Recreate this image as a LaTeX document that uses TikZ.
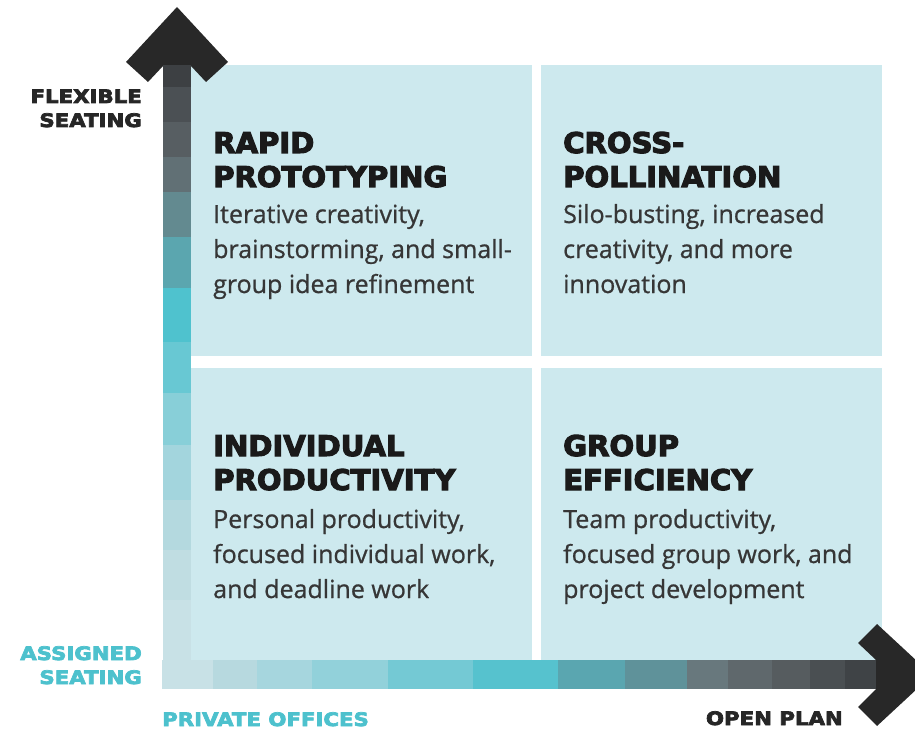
\documentclass[tikz,border=0pt]{standalone}
\usepackage{fontspec}
\setmainfont{Open Sans}[FakeBold=0.8]
\newfontfamily\headfont{DejaVu Sans}[BoldFeatures={FakeStretch=1.02,FakeBold=4}]
\newfontfamily\axisfont{DejaVu Sans}[BoldFeatures={FakeStretch=1.15,FakeBold=4}]

\definecolor{panelblue}{HTML}{CDE9EE}
\definecolor{headdark}{HTML}{282828}
\definecolor{titleink}{HTML}{1A1A1A}
\definecolor{bodygray}{HTML}{363636}
\definecolor{labelteal}{HTML}{4DC1CD}
\definecolor{labeldark}{HTML}{262626}

% steps of the vertical shaft, top to bottom
\definecolor{va}{RGB}{61,64,67}
\definecolor{vb}{RGB}{75,80,84}
\definecolor{vc}{RGB}{87,94,98}
\definecolor{vd}{RGB}{97,112,117}
\definecolor{ve}{RGB}{99,138,144}
\definecolor{vf}{RGB}{91,166,175}
\definecolor{vg}{RGB}{79,194,206}
\definecolor{vh}{RGB}{104,200,211}
\definecolor{vi}{RGB}{136,207,216}
\definecolor{vj}{RGB}{163,213,221}
\definecolor{vk}{RGB}{180,217,223}
\definecolor{vl}{RGB}{192,221,226}
\definecolor{vm}{RGB}{200,225,230}
% steps of the horizontal shaft, left to right
\definecolor{ha}{RGB}{200,225,230}
\definecolor{hb}{RGB}{183,217,223}
\definecolor{hc}{RGB}{166,214,222}
\definecolor{hd}{RGB}{146,209,218}
\definecolor{he}{RGB}{116,201,212}
\definecolor{hf}{RGB}{86,194,206}
\definecolor{hg}{RGB}{90,166,176}
\definecolor{hh}{RGB}{95,146,154}
\definecolor{hi}{RGB}{104,120,125}
\definecolor{hj}{RGB}{95,104,108}
\definecolor{hk}{RGB}{86,92,95}
\definecolor{hl}{RGB}{74,79,82}
\definecolor{hm}{RGB}{63,67,70}

\tikzset{
  panel/.style={fill=panelblue, draw=none},
  band/.style={fill=#1, draw=none},
  title/.style={anchor=base west, inner sep=0pt, align=left, text=titleink,
    font=\headfont\bfseries\fontsize{28.5}{34}\selectfont},
  blurb/.style={anchor=base west, inner sep=0pt, align=left, text=bodygray,
    font=\fontsize{25}{35}\selectfont},
  axislabel/.style={inner sep=0pt, font=\axisfont\bfseries\fontsize{18.5}{24}\selectfont},
}

\begin{document}
\begin{tikzpicture}[x=1pt, y=-1pt]
\useasboundingbox (0,0) rectangle (915,730);
\clip (0,0) rectangle (915,730);

% quadrant panels
\path[panel] (191,65) rectangle (532,356);
\path[panel] (541,65) rectangle (882,356);
\path[panel] (191,368) rectangle (532,660);
\path[panel] (541,368) rectangle (882,660);

% vertical axis: stepped shaft, dark at the top, light at the bottom
\path[band=headdark] (163,66) -- (148,82) -- (126,62) -- (177,7) -- (228,62) -- (206,82) -- (191,66) -- cycle;
\path[band=va] (163,65) rectangle (191,87);
\path[band=vb] (163,87) rectangle (191,122);
\path[band=vc] (163,122) rectangle (191,157);
\path[band=vd] (163,157) rectangle (191,192);
\path[band=ve] (163,192) rectangle (191,237);
\path[band=vf] (163,237) rectangle (191,288);
\path[band=vg] (163,288) rectangle (191,342);
\path[band=vh] (163,342) rectangle (191,393);
\path[band=vi] (163,393) rectangle (191,445);
\path[band=vj] (163,445) rectangle (191,500);
\path[band=vk] (163,500) rectangle (191,550);
\path[band=vl] (163,550) rectangle (191,600);
\path[band=vm] (163,600) rectangle (191,689);

% horizontal axis: stepped shaft, light on the left, dark on the right
\path[band=ha] (162,660) rectangle (213,689);
\path[band=hb] (213,660) rectangle (257,689);
\path[band=hc] (257,660) rectangle (312,689);
\path[band=hd] (312,660) rectangle (388,689);
\path[band=he] (388,660) rectangle (473,689);
\path[band=hf] (473,660) rectangle (558,689);
\path[band=hg] (558,660) rectangle (625,689);
\path[band=hh] (625,660) rectangle (687,689);
\path[band=hi] (687,660) rectangle (728,689);
\path[band=hj] (728,660) rectangle (772,689);
\path[band=hk] (772,660) rectangle (810,689);
\path[band=hl] (810,660) rectangle (845,689);
\path[band=hm] (845,660) rectangle (877,689);
\path[band=headdark] (876,660) -- (858,643) -- (877,624) -- (932,675) -- (877,726) -- (858,707) -- (876,689) -- cycle;

% axis labels (a multi-line node sits on the baseline of its last line)
\node[axislabel, text=labeldark, align=right, anchor=base east] (flex) at (142,127) {FLEXIBLE\\SEATING};
\node[axislabel, text=labelteal, align=right, anchor=base east] (assigned) at (142,684) {ASSIGNED\\SEATING};
\node[axislabel, text=labelteal, anchor=base west] (private) at (162,726) {PRIVATE OFFICES};
\node[axislabel, text=labeldark, anchor=base east] (open) at (843,725) {OPEN PLAN};

% quadrant texts
\node[title] (tl) at (213,187) {RAPID\\PROTOTYPING};
\node[blurb] (tlb) at (213,293) {Iterative creativity,\\brainstorming, and small-\\group idea refinement};

\node[title] (tr) at (563,187) {CROSS-\\POLLINATION};
\node[blurb] (trb) at (563,293) {Silo-busting, increased\\creativity, and more\\innovation};

\node[title] (bl) at (213,490) {INDIVIDUAL\\PRODUCTIVITY};
\node[blurb] (blb) at (213,598) {Personal productivity,\\focused individual work,\\and deadline work};

\node[title] (br) at (563,490) {GROUP\\EFFICIENCY};
\node[blurb] (brb) at (563,598) {Team productivity,\\focused group work, and\\project development};
\end{tikzpicture}
\end{document}
